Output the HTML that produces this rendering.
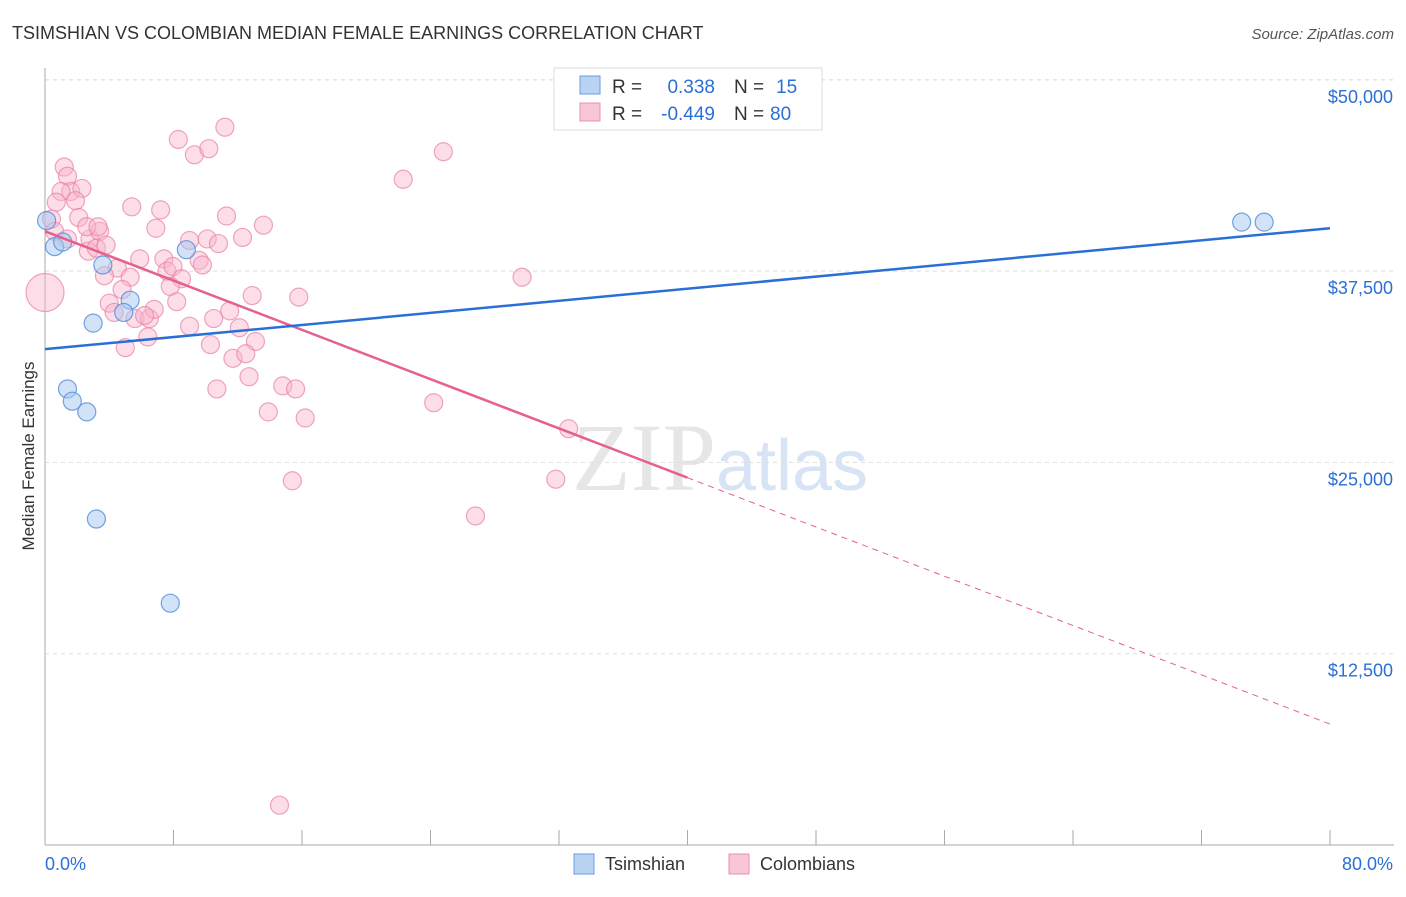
<!DOCTYPE html>
<html><head><meta charset="utf-8"><style>
body{margin:0;background:#fff;font-family:"Liberation Sans",sans-serif}
</style></head><body>
<svg id="chart" width="1406" height="892" xmlns="http://www.w3.org/2000/svg" font-family="Liberation Sans, sans-serif">
<text x="12" y="39" font-size="18" fill="#333">TSIMSHIAN VS COLOMBIAN MEDIAN FEMALE EARNINGS CORRELATION CHART</text>
<text x="1394" y="39" font-size="15" fill="#555" text-anchor="end" font-style="italic">Source: ZipAtlas.com</text>
<text x="720" y="490" font-size="96" fill="#e6e6e6" text-anchor="middle" font-family="Liberation Serif, serif">ZIP<tspan fill="#d6e4f5" font-family="Liberation Sans, sans-serif" font-size="72">atlas</tspan></text>
<g id="grid"></g><g id="axes"></g><g id="marks"></g><g id="lines"></g>
<text transform="translate(34,456) rotate(-90)" font-size="17" fill="#333" text-anchor="middle">Median Female Earnings</text>
<g>
<rect x="554" y="68" width="268" height="62" fill="#fff" stroke="#ddd"/>
<rect x="580" y="76" width="20" height="18" fill="#b9d3f3" stroke="#6a9be0"/>
<text x="612" y="93" font-size="19" fill="#333">R =</text>
<text x="715" y="93" font-size="19" fill="#2a6fd6" text-anchor="end">0.338</text>
<text x="734" y="93" font-size="19" fill="#333">N =</text>
<text x="776" y="93" font-size="19" fill="#2a6fd6">15</text>
<rect x="580" y="103" width="20" height="18" fill="#f8c6d6" stroke="#e890b0"/>
<text x="612" y="120" font-size="19" fill="#333">R =</text>
<text x="715" y="120" font-size="19" fill="#2a6fd6" text-anchor="end">-0.449</text>
<text x="734" y="120" font-size="19" fill="#333">N =</text>
<text x="770" y="120" font-size="19" fill="#2a6fd6">80</text>
</g>
<g>
<rect x="574" y="854" width="20" height="20" fill="#b9d3f3" stroke="#6a9be0"/>
<text x="605" y="870" font-size="18" fill="#333">Tsimshian</text>
<rect x="729" y="854" width="20" height="20" fill="#f8c6d6" stroke="#e890b0"/>
<text x="760" y="870" font-size="18" fill="#333">Colombians</text>
</g>
</svg>
<script>
const yTicks=[12500,25000,37500,50000];
const yTickLabels=["$12,500","$25,000","$37,500","$50,000"];
const blueX=[0.1,0.6,1.1,3.6,5.3,4.9,3.0,1.4,1.7,2.6,3.2,7.8,8.8,74.5,75.9];
const blueY=[40800,39100,39400,37900,35600,34800,34100,29800,29000,28300,21300,15800,38900,40700,40700];
const pinkX=[0,1.2,1.4,1.6,2.3,1.0,0.7,1.9,0.4,2.1,0.6,1.4,2.8,3.4,2.7,3.2,3.8,2.6,3.3,4.5,3.7,5.3,5.9,4.0,4.8,4.3,5.6,6.5,6.8,6.2,5.0,6.4,5.4,7.2,6.9,7.4,7.6,7.97,8.5,7.8,8.2,9.0,8.3,9.3,10.2,11.2,11.3,10.1,10.8,12.3,9.0,9.6,9.8,13.6,12.9,11.5,10.5,12.1,13.1,10.3,11.7,12.5,12.7,10.7,13.9,14.8,15.6,16.2,15.8,15.4,14.6,22.3,24.8,29.7,24.2,32.6,31.8,26.8];
const pinkY=[36100,44300,43700,42700,42900,42700,42000,42100,40900,41000,40100,39600,39600,40100,38800,39000,39200,40400,40400,37700,37200,37100,38300,35400,36300,34800,34400,34400,35000,34600,32500,33200,41700,41500,40300,38300,37500,37800,37000,36500,35500,33900,46100,45100,45500,46900,41100,39600,39300,39700,39500,38200,37900,40500,35900,34900,34400,33800,32900,32700,31800,32100,30600,29800,28300,30000,29800,27900,35800,23800,2600,43500,45300,37100,28900,27200,23900,21500];
const pinkLine=[40100,7900]; const blueLine=[32400,40300];
const X=v=>45+v/80*1285, Y=v=>845-v/12500*191.3;
const ns="http://www.w3.org/2000/svg";
function mk(t,a,p){const e=document.createElementNS(ns,t);for(const k in a)e.setAttribute(k,a[k]);document.getElementById(p).appendChild(e);return e;}
yTicks.forEach((t,i)=>{
 const l=mk('line',{x1:45,x2:1394,y1:Y(t),y2:Y(t),stroke:'#ddd','stroke-dasharray':'4,4'},'grid');
 
 
 const tx=mk('text',{x:1393,y:Y(t)+23,'font-size':18,fill:'#2a6fd6','text-anchor':'end'},'axes');
 tx.textContent=yTickLabels[i];
 
 
});
const topGrid=mk('line',{x1:45,x2:1394,y1:80,y2:80,stroke:'#ddd','stroke-dasharray':'4,4'},'grid');


const ya=mk('line',{x1:45,x2:45,y1:68,y2:845,stroke:'#aaa'},'axes');


const xa=mk('line',{x1:45,x2:1394,y1:845,y2:845,stroke:'#aaa'},'axes');


for(let i=0;i<=10;i++){const t=mk('line',{x1:X(i*8),x2:X(i*8),y1:830,y2:845,stroke:'#aaa'},'axes');
 
 }
const xl0=mk('text',{x:45,y:870,'font-size':18,fill:'#2a6fd6'},'axes');xl0.textContent='0.0%';


const xl1=mk('text',{x:1393,y:870,'font-size':18,fill:'#2a6fd6','text-anchor':'end'},'axes');xl1.textContent='80.0%';


pinkX.forEach((x,i)=>{const c=mk('circle',{cx:X(x),cy:Y(pinkY[i]),r:i==0?19:9,fill:'rgba(248,180,204,0.45)',stroke:'rgba(232,128,165,0.7)','stroke-width':1.2},'marks');
 
 });
blueX.forEach((x,i)=>{const c=mk('circle',{cx:X(x),cy:Y(blueY[i]),r:9,fill:'rgba(168,200,240,0.5)',stroke:'rgba(80,140,220,0.8)','stroke-width':1.2},'marks');
 
 });
const ps=(v)=>pinkLine[0]+(pinkLine[1]-pinkLine[0])*v/80;
const p1=mk('line',{x1:X(0),y1:Y(ps(0)),x2:X(40),y2:Y(ps(40)),stroke:'#e5608e','stroke-width':2.5},'lines');


const p2=mk('line',{x1:X(40),y1:Y(ps(40)),x2:X(80),y2:Y(ps(80)),stroke:'#e5608e','stroke-width':1,'stroke-dasharray':'6,5'},'lines');


const b=mk('line',{x1:X(0),y1:Y(blueLine[0]),x2:X(80),y2:Y(blueLine[1]),stroke:'#2a6fd6','stroke-width':2.5},'lines');


</script>
</body></html>
